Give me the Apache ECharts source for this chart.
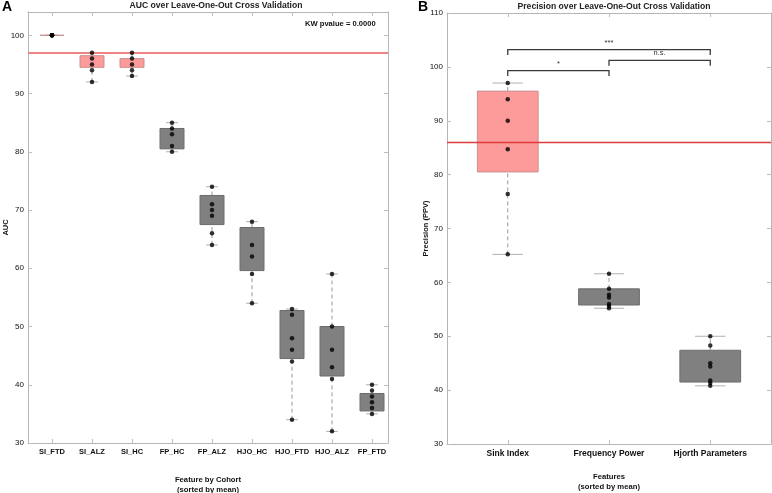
<!DOCTYPE html>
<html>
<head>
<meta charset="utf-8">
<script src="https://cdn.jsdelivr.net/npm/echarts@6/dist/echarts.min.js"></script>
<style>
  html, body { margin: 0; padding: 0; background: #fff; }
  #chart { width: 772px; height: 493px; }
</style>
</head>
<body>
<div id="chart"></div>
<script>
// panel A: AUC per feature/cohort
var catsA = ['SI_FTD', 'SI_ALZ', 'SI_HC', 'FP_HC', 'FP_ALZ', 'HJO_HC', 'HJO_FTD', 'HJO_ALZ', 'FP_FTD'];
var q1A = [100, 94.5, 94.5, 80.5, 67.5, 59.6, 44.5, 41.5, 35.5];
var q3A = [100, 96.5, 96.0, 84.0, 72.5, 67.0, 52.75, 50.0, 38.5];
var pointsA = [
    [100, 100, 100, 100, 100],
    [97, 96, 95, 94, 92],
    [97, 96, 95, 94, 93],
    [85, 84, 83, 81, 80],
    [74, 71, 70, 69, 66, 64],
    [68, 64, 62, 59, 54],
    [53, 52, 48, 46, 44, 34],
    [59, 50, 46, 43, 41, 32],
    [40, 39, 38, 37, 36, 35]
];
var refA = 97;
var yTicksA = [30, 40, 50, 60, 70, 80, 90, 100];

// panel B: precision per feature
var catsB = ['Sink Index', 'Frequency Power', 'Hjorth Parameters'];
var q1B = [80.5, 55.8, 41.5];
var q3B = [95.5, 58.8, 47.4];
var pointsB = [
    [97, 94, 90, 84.7, 76.4, 65.2],
    [61.6, 58.8, 57.7, 57.2, 56.0, 55.6, 55.2],
    [50, 48.3, 45.0, 44.4, 41.8, 41.3, 40.8]
];
var refB = 86.1;
var yTicksB = [30, 40, 50, 60, 70, 80, 90, 100, 110];
// significance brackets: [from, to, level, label]
var bracketsB = [
    [1, 3, 103.2, '***'],
    [2, 3, 101.2, 'n.s.'],
    [1, 2, 99.3, '*']
];

var font = 'Liberation Sans, Arial, sans-serif';

function isSink(name){
    return name.indexOf('SI_') === 0 || name === 'Sink Index';
}

// box data: [x, q1, q3, lo, hi, sink]
function boxData(cats, q1, q3, pts){
    return cats.map(function(c, i){
        return [i + 1, q1[i], q3[i], Math.min.apply(null, pts[i]), Math.max.apply(null, pts[i]), isSink(c) ? 1 : 0];
    });
}
function pointData(pts){
    var out = [];
    pts.forEach(function(arr, i){
        arr.forEach(function(v){ out.push([i + 1, v]); });
    });
    return out;
}

function renderBox(params, api){
    var x = api.value(0), q1 = api.value(1), q3 = api.value(2), lo = api.value(3), hi = api.value(4);
    var sink = api.value(5) === 1;
    var tl = api.coord([x - 0.3, q3]);
    var br = api.coord([x + 0.3, q1]);
    var c = api.coord([x, 0])[0];
    var yLo = api.coord([x, lo])[1], yHi = api.coord([x, hi])[1];
    var capL = api.coord([x - 0.15, lo])[0], capR = api.coord([x + 0.15, lo])[0];
    var dash = {stroke: '#9a9a9a', lineWidth: 1, lineDash: [4, 3]};
    var cap = {stroke: '#b0b0b0', lineWidth: 1};
    return {
        type: 'group',
        children: [
            {type: 'line', shape: {x1: c, y1: yLo, x2: c, y2: br[1]}, style: dash},
            {type: 'line', shape: {x1: c, y1: tl[1], x2: c, y2: yHi}, style: dash},
            {type: 'line', shape: {x1: capL, y1: yLo, x2: capR, y2: yLo}, style: cap},
            {type: 'line', shape: {x1: capL, y1: yHi, x2: capR, y2: yHi}, style: cap},
            {type: 'rect', shape: {x: tl[0], y: tl[1], width: br[0] - tl[0], height: br[1] - tl[1]},
                style: {fill: sink ? '#fd9a9a' : '#808080', stroke: sink ? '#c99090' : '#6c6c6c', lineWidth: 1}}
        ]
    };
}

function renderBracket(params, api){
    var a = api.coord([api.value(0), api.value(2)]);
    var b = api.coord([api.value(1), api.value(2)]);
    var drop = api.coord([api.value(0), api.value(2) - 1])[1];
    var st = {stroke: '#3a3a3a', lineWidth: 1.3, fill: null};
    return {
        type: 'group',
        children: [
            {type: 'polyline', shape: {points: [[a[0], drop], [a[0], a[1]], [b[0], b[1]], [b[0], drop]]}, style: st},
            {type: 'text', x: (a[0] + b[0]) / 2, y: a[1] - 3,
                style: {text: bracketsB[params.dataIndex][3], fill: '#333', font: '7.5px ' + font, align: 'center', verticalAlign: 'bottom'}}
        ]
    };
}

var axisLineStyle = {show: true, lineStyle: {color: '#b5b5b5', width: 1}};
var tickStyle = {inside: true, length: 4, lineStyle: {color: '#bdbdbd'}};

function xAxes(gridIndex, cats, max, label, nameGap, name){
    var ticks = cats.map(function(c, i){ return i + 1; });
    return [{
        type: 'value', gridIndex: gridIndex, min: 0.4, max: max, position: 'bottom',
        axisLine: axisLineStyle, splitLine: {show: false},
        axisTick: Object.assign({customValues: ticks}, tickStyle),
        axisLabel: Object.assign({customValues: ticks, color: '#111', fontFamily: font,
            formatter: function(v){ return cats[Math.round(v) - 1]; }}, label),
        name: name, nameLocation: 'middle', nameGap: nameGap,
        nameTextStyle: {color: '#111', fontFamily: font, fontWeight: 'bold', fontSize: 7.7, lineHeight: 9.5}
    }, {
        type: 'value', gridIndex: gridIndex, min: 0.4, max: max, position: 'top',
        axisLine: axisLineStyle, splitLine: {show: false},
        axisTick: Object.assign({customValues: ticks}, tickStyle),
        axisLabel: {show: false}
    }];
}

function yAxes(gridIndex, min, max, ticks, name, nameGap){
    return [{
        type: 'value', gridIndex: gridIndex, min: min, max: max, position: 'left',
        axisLine: axisLineStyle, splitLine: {show: false},
        axisTick: Object.assign({customValues: ticks}, tickStyle),
        axisLabel: {customValues: ticks, color: '#111', fontFamily: font, fontSize: 8, margin: 4},
        name: name, nameLocation: 'middle', nameGap: nameGap, nameMoveOverlap: false,
        nameTextStyle: {color: '#111', fontFamily: font, fontWeight: 'bold', fontSize: 7.5}
    }, {
        type: 'value', gridIndex: gridIndex, min: min, max: max, position: 'right',
        axisLine: axisLineStyle, splitLine: {show: false},
        axisTick: Object.assign({customValues: ticks}, tickStyle),
        axisLabel: {show: false}
    }];
}

var chart = echarts.init(document.getElementById('chart'), null, {renderer: 'canvas'});
var option = {
    animation: false,
    backgroundColor: '#fff',
    title: [
        {text: 'A', left: -3, top: -5, textStyle: {fontFamily: font, fontSize: 14, fontWeight: 'bold', color: '#000'}},
        {text: 'B', left: 413, top: -5, textStyle: {fontFamily: font, fontSize: 14, fontWeight: 'bold', color: '#000'}},
        {text: 'AUC over Leave-One-Out Cross Validation', left: 211, textAlign: 'center', top: -4,
            textStyle: {fontFamily: font, fontSize: 8.6, fontWeight: 'bold', color: '#222'}},
        {text: 'Precision over Leave-One-Out Cross Validation', left: 609, textAlign: 'center', top: -3,
            textStyle: {fontFamily: font, fontSize: 8.6, fontWeight: 'bold', color: '#222'}},
        {text: 'KW pvalue = 0.0000', left: 300, top: 15,
            textStyle: {fontFamily: font, fontSize: 7.6, fontWeight: 'bold', color: '#111'}}
    ],
    grid: [
        {left: 28, right: 384, top: 12, bottom: 50, outerBoundsMode: 'none', containLabel: false},
        {left: 447, right: 1, top: 13, bottom: 49, outerBoundsMode: 'none', containLabel: false}
    ],
    xAxis: xAxes(0, catsA, 9.4, {fontSize: 7.5, fontWeight: 'bold', margin: 5}, 32.5, 'Feature by Cohort\n(sorted by mean)')
        .concat(xAxes(1, catsB, 3.6, {fontSize: 8.5, fontWeight: 'bold', margin: 5}, 28.5, 'Features\n(sorted by mean)')),
    yAxis: yAxes(0, 30, 104, yTicksA, 'AUC', 18)
        .concat(yAxes(1, 30, 110, yTicksB, 'Precision (PPV)', 17)),
    series: [
        {
            type: 'custom', xAxisIndex: 0, yAxisIndex: 0, renderItem: renderBox,
            data: boxData(catsA, q1A, q3A, pointsA), z: 2,
            markLine: {silent: true, symbol: 'none', label: {show: false},
                lineStyle: {color: '#f08484', width: 2, type: 'solid'}, data: [{yAxis: refA}]}
        },
        {
            type: 'scatter', xAxisIndex: 0, yAxisIndex: 0, data: pointData(pointsA),
            symbolSize: 4.5, itemStyle: {color: '#000'}, z: 5
        },
        {
            type: 'custom', xAxisIndex: 2, yAxisIndex: 2, renderItem: renderBox,
            data: boxData(catsB, q1B, q3B, pointsB), z: 2,
            markLine: {silent: true, symbol: 'none', label: {show: false},
                lineStyle: {color: '#e03c3c', width: 1.3, type: 'solid'}, data: [{yAxis: refB}]}
        },
        {
            type: 'scatter', xAxisIndex: 2, yAxisIndex: 2, data: pointData(pointsB),
            symbolSize: 4.5, itemStyle: {color: '#000'}, z: 5
        },
        {
            type: 'custom', xAxisIndex: 2, yAxisIndex: 2, renderItem: renderBracket,
            data: bracketsB.map(function(b){ return [b[0], b[1], b[2]]; }), z: 4, clip: false
        }
    ]
};
chart.setOption(option);
</script>
</body>
</html>
